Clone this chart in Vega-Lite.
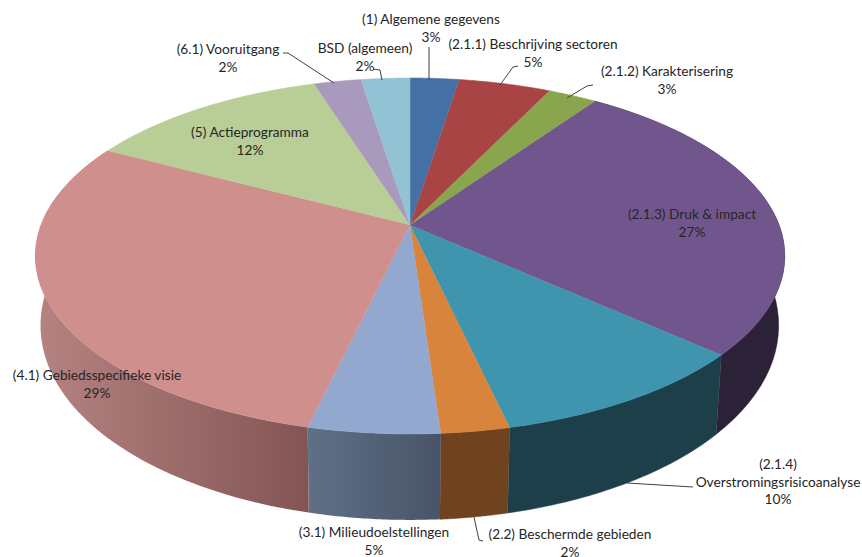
{"$schema":"https://vega.github.io/schema/vega-lite/v6.json","width":862,"height":557,"padding":0,"autosize":{"type":"none"},"background":"white","view":{"stroke":null},
"data":{"values":[
{"slice":0,"name":"(1) Algemene gegevens","share":2.5,"label":"(1) Algemene gegevens\n3%"},
{"slice":1,"name":"(2.1.1) Beschrijving sectoren","share":4.7,"label":"(2.1.1) Beschrijving sectoren\n5%"},
{"slice":2,"name":"(2.1.2) Karakterisering","share":2.5,"label":"(2.1.2) Karakterisering\n3%"},
{"slice":3,"name":"(2.1.3) Druk & impact","share":26.9,"label":"(2.1.3) Druk & impact\n27%"},
{"slice":4,"name":"(2.1.4) Overstromingsrisicoanalyse","share":9.8,"label":"(2.1.4)\nOverstromingsrisicoanalyse\n10%"},
{"slice":5,"name":"(2.2) Beschermde gebieden","share":2.5,"label":"(2.2) Beschermde gebieden\n2%"},
{"slice":6,"name":"(3.1) Milieudoelstellingen","share":4.8,"label":"(3.1) Milieudoelstellingen\n5%"},
{"slice":7,"name":"(4.1) Gebiedsspecifieke visie","share":29.0,"label":"(4.1) Gebiedsspecifieke visie\n29%"},
{"slice":8,"name":"(5) Actieprogramma","share":12.4,"label":"(5) Actieprogramma\n12%"},
{"slice":9,"name":"(6.1) Vooruitgang","share":2.4,"label":"(6.1) Vooruitgang\n2%"},
{"slice":10,"name":"BSD (algemeen)","share":2.5,"label":"BSD (algemeen)\n2%"}
]},
"transform":[
{"window":[{"op":"sum","field":"share","as":"cum"}],"sort":[{"field":"slice","order":"ascending"}]},
{"calculate":"(datum.cum-datum.share)*PI/50","as":"a0"},
{"calculate":"datum.cum*PI/50","as":"a1"},
{"calculate":"sequence(0,82)","as":"step"},
{"flatten":["step"]},
{"calculate":"datum.step<=40?datum.a0+(datum.a1-datum.a0)*datum.step/40:datum.a1-(datum.a1-datum.a0)*(datum.step-41)/40","as":"th"},
{"calculate":"1+0.174*cos(datum.th)","as":"d"},
{"calculate":"410+369*sin(datum.th)/datum.d","as":"rx"},
{"calculate":"(225-133.4*cos(datum.th))/datum.d","as":"ry"},
{"calculate":"datum.step<=40?datum.rx:410","as":"tx"},
{"calculate":"datum.step<=40?datum.ry:225","as":"ty"},
{"calculate":"datum.step<=40?datum.rx:datum.rx-(datum.rx-380)*0.015","as":"wx"},
{"calculate":"datum.step<=40?datum.ry:datum.ry+66-20*cos(datum.th)","as":"wy"}
],
"layer":[
{"transform":[{"filter":"datum.slice==3"}],"mark":{"type":"line","fill":"#2c2238","stroke":"#2c2238","strokeWidth":0.5},
 "encoding":{"x":{"field":"wx","type":"quantitative","scale":{"domain":[0,862],"nice":false,"zero":false},"axis":null},"y":{"field":"wy","type":"quantitative","scale":{"domain":[557,0],"nice":false,"zero":false},"axis":null},"order":{"field":"step"}}},
{"transform":[{"filter":"datum.slice==4"}],"mark":{"type":"line","fill":"#1c3f4a","stroke":"#1c3f4a","strokeWidth":0.5},
 "encoding":{"x":{"field":"wx","type":"quantitative","scale":{"domain":[0,862],"nice":false,"zero":false},"axis":null},"y":{"field":"wy","type":"quantitative","scale":{"domain":[557,0],"nice":false,"zero":false},"axis":null},"order":{"field":"step"}}},
{"transform":[{"filter":"datum.slice==5"}],"mark":{"type":"line","fill":"#6f431f","stroke":"#6f431f","strokeWidth":0.5},
 "encoding":{"x":{"field":"wx","type":"quantitative","scale":{"domain":[0,862],"nice":false,"zero":false},"axis":null},"y":{"field":"wy","type":"quantitative","scale":{"domain":[557,0],"nice":false,"zero":false},"axis":null},"order":{"field":"step"}}},
{"transform":[{"filter":"datum.slice==6"}],"mark":{"type":"line","strokeWidth":0,"fill":{"gradient":"linear","x1":0,"y1":0,"x2":1,"y2":0,"stops":[{"offset":0,"color":"#5f7087"},{"offset":1,"color":"#485468"}]}},
 "encoding":{"x":{"field":"wx","type":"quantitative","scale":{"domain":[0,862],"nice":false,"zero":false},"axis":null},"y":{"field":"wy","type":"quantitative","scale":{"domain":[557,0],"nice":false,"zero":false},"axis":null},"order":{"field":"step"}}},
{"transform":[{"filter":"datum.slice==7"}],"mark":{"type":"line","strokeWidth":0,"fill":{"gradient":"linear","x1":0,"y1":0,"x2":1,"y2":0,"stops":[{"offset":0,"color":"#b58382"},{"offset":1,"color":"#825553"}]}},
 "encoding":{"x":{"field":"wx","type":"quantitative","scale":{"domain":[0,862],"nice":false,"zero":false},"axis":null},"y":{"field":"wy","type":"quantitative","scale":{"domain":[557,0],"nice":false,"zero":false},"axis":null},"order":{"field":"step"}}},
{"mark":{"type":"line","strokeWidth":0.6,"fillOpacity":1},
 "encoding":{"x":{"field":"tx","type":"quantitative","scale":{"domain":[0,862],"nice":false,"zero":false},"axis":null},"y":{"field":"ty","type":"quantitative","scale":{"domain":[557,0],"nice":false,"zero":false},"axis":null},"order":{"field":"step"},"detail":{"field":"slice"},
 "fill":{"field":"slice","type":"nominal","legend":null,"scale":{"domain":[0,1,2,3,4,5,6,7,8,9,10],"range":["#4470a6","#a84544","#89a64e","#71568e","#3f95ad","#d9843d","#93a8cf","#ce8f8d","#b9cd96","#a99abd","#92c3d5"]}},
 "stroke":{"field":"slice","type":"nominal","legend":null,"scale":{"domain":[0,1,2,3,4,5,6,7,8,9,10],"range":["#4470a6","#a84544","#89a64e","#71568e","#3f95ad","#d9843d","#93a8cf","#ce8f8d","#b9cd96","#a99abd","#92c3d5"]}}}},
{"transform":[{"filter":"datum.step<=2&&indexof([0,1,2,4,5,9,10],datum.slice)>=0"},
 {"calculate":"{'0':[[429,47],[429,47],[429,80]],'1':[[518,66],[513,67],[500,85]],'2':[[593,85],[587,86],[567,98]],'4':[[693,487],[693,487],[627,483]],'5':[[483,541],[479,540],[474,517]],'9':[[283,53],[288,53],[334,83]],'10':[[373,69],[380,70],[382,80]]}[datum.slice]","as":"pts"},
 {"calculate":"datum.pts[datum.step][0]","as":"lx"},{"calculate":"datum.pts[datum.step][1]","as":"ly"}],
 "mark":{"type":"line","stroke":"#404040","strokeWidth":1},
 "encoding":{"x":{"field":"lx","type":"quantitative","scale":{"domain":[0,862],"nice":false,"zero":false},"axis":null},"y":{"field":"ly","type":"quantitative","scale":{"domain":[557,0],"nice":false,"zero":false},"axis":null},"order":{"field":"step"},"detail":{"field":"slice"}}},
{"transform":[{"filter":"datum.step==0"},
 {"calculate":"[[431,13],[533,38],[667,65],[692,208],[778,458],[570,528],[374,526],[97,369],[250,126],[228,43],[365,42]][datum.slice]","as":"pos"},
 {"calculate":"datum.pos[0]","as":"bx"},{"calculate":"datum.pos[1]","as":"by"}],
 "mark":{"type":"text","font":"Lato","fontSize":13.7,"align":"center","baseline":"top","lineBreak":"\n","lineHeight":17.5,"color":"#262626"},
 "encoding":{"x":{"field":"bx","type":"quantitative","scale":{"domain":[0,862],"nice":false,"zero":false},"axis":null},"y":{"field":"by","type":"quantitative","scale":{"domain":[557,0],"nice":false,"zero":false},"axis":null},"text":{"field":"label","type":"nominal"}}}
]}
